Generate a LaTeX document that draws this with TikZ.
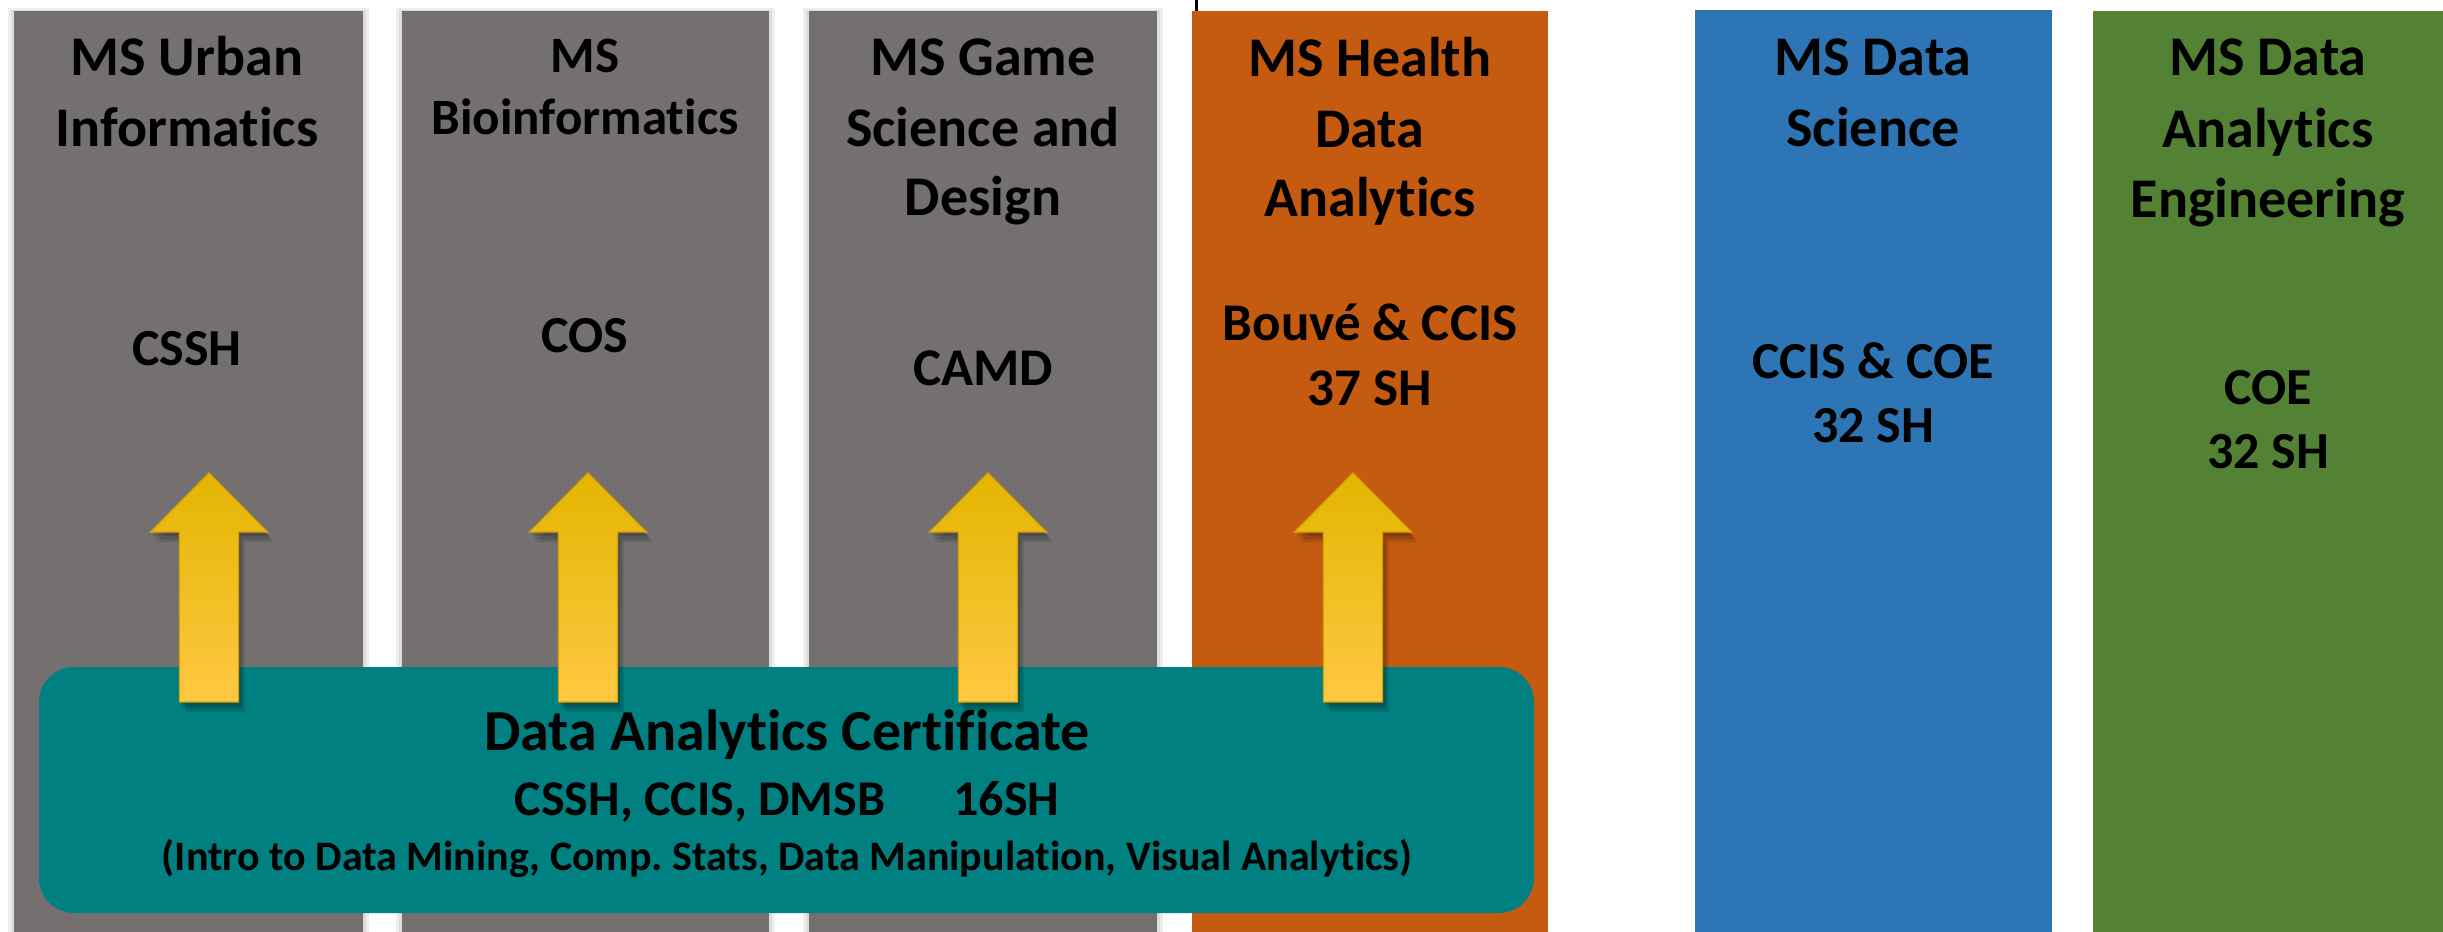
\documentclass[tikz,border=0pt]{standalone}
\usepackage{fontspec}
\setmainfont{Carlito}[Ligatures={NoCommon}]
\usetikzlibrary{fit}
\frenchspacing
\definecolor{colgray}{HTML}{747070}
\definecolor{colorange}{HTML}{C55A11}
\definecolor{colblue}{HTML}{2E75B6}
\definecolor{colgreen}{HTML}{548235}
\definecolor{colteal}{HTML}{008080}
\definecolor{arrtop}{HTML}{E3B500}
\definecolor{arrmid}{HTML}{FFC000}
\definecolor{arrbot}{HTML}{FFC843}
\definecolor{arredge}{HTML}{D9A300}
\newcommand{\mltext}[3]{{\fontsize{#1}{#2}\selectfont\bfseries\begin{tabular}[t]{@{}c@{}}#3\end{tabular}}}
\tikzset{
  colbox/.style={inner sep=0pt, draw=none},
  txt/.style={anchor=base, inner sep=0pt, text=black},
  colshadow/.style={fill=black, opacity=0.07},
  uparr/.pic={
    \foreach \dx/\dy in {2/4,4/7,6/10}{
      \fill[black,opacity=0.12] (\dx,473+\dy) -- (58.5+\dx,532+\dy) -- (29.5+\dx,532+\dy) -- (29.5+\dx,702+\dy) -- (-29.5+\dx,702+\dy) -- (-29.5+\dx,532+\dy) -- (-58.5+\dx,532+\dy) -- cycle;
    }
    \shade[top color=arrtop, middle color=arrmid, bottom color=arrbot, draw=arredge, line width=0.3pt]
      (0,473) -- (58.5,532) -- (29.5,532) -- (29.5,702) -- (-29.5,702) -- (-29.5,532) -- (-58.5,532) -- cycle;
  }
}
\begin{document}
\begin{tikzpicture}[x=0.25pt, y=-0.25pt]
\useasboundingbox (0,0) rectangle (2443,932);
\fill[white] (0,0) rectangle (2443,932);

% soft shadows of gray columns
\foreach \a/\b in {14/363, 402/769, 809/1157}{
  \fill[colshadow] (\a-6,8) rectangle (\b+6,932);
  \fill[colshadow] (\a-3,10) rectangle (\b+3,932);
}

% columns
\node[colbox, fill=colgray, fit={(14,11) (363,932)}] (c1) {};
\node[colbox, fill=colgray, fit={(402,11) (769,932)}] (c2) {};
\node[colbox, fill=colgray, fit={(809,11) (1157,932)}] (c3) {};
\node[colbox, fill=colorange, fit={(1192,11) (1548,932)}] (c4) {};
\node[colbox, fill=colblue, fit={(1695,10) (2052,932)}] (c5) {};
\node[colbox, fill=colgreen, fit={(2093,11) (2443,932)}] (c6) {};

% small tick above the orange column
\coordinate (tickA) at (1196,0);
\coordinate (tickB) at (1196,11);
\draw[line width=0.75pt] (tickA) -- (tickB);

% certificate box
\node[colbox, fill=colteal, rounded corners=8.75pt, fit={(39,667) (1534,913)}] (cert) {};

% arrows from certificate up to the programs
\pic at (209,0) {uparr};
\pic at (588,0) {uparr};
\pic at (988,0) {uparr};
\pic at (1353,0) {uparr};

% column texts
\node[txt] (t1) at (187,76) {\mltext{14pt}{17.5pt}{MS Urban\\Informatics}};
\node[txt] (s1) at (187,365) {\mltext{13pt}{16.25pt}{CSSH}};

\node[txt] (t2) at (585,72) {\mltext{12.75pt}{15.75pt}{MS\\Bioinformatics}};
\node[txt] (s2) at (585,352) {\mltext{13pt}{16.25pt}{COS}};

\node[txt] (t3) at (983,76) {\mltext{14pt}{17.5pt}{MS Game\\Science and\\Design}};
\node[txt] (s3) at (983,385) {\mltext{13.25pt}{16.25pt}{CAMD}};

\node[txt] (t4) at (1370,77) {\mltext{14pt}{17.5pt}{MS Health\\Data\\Analytics}};
\node[txt] (s4) at (1370,340) {\mltext{13.25pt}{16.25pt}{Bouvé \& CCIS\\37 SH}};

\node[txt] (t5) at (1873,76) {\mltext{14pt}{17.5pt}{MS Data\\Science}};
\node[txt] (s5) at (1873,378) {\mltext{13pt}{16pt}{CCIS \& COE\\32 SH}};

\node[txt] (t6) at (2268,76) {\mltext{14pt}{17.75pt}{MS Data\\Analytics\\Engineering}};
\node[txt] (s6) at (2268,404) {\mltext{13pt}{16pt}{COE\\32 SH}};

% certificate texts
\node[txt] (ct1) at (787,750) {\mltext{14.5pt}{17pt}{Data Analytics Certificate}};
\node[txt] (ct2) at (787,815) {\mltext{12.5pt}{15pt}{CSSH, CCIS, DMSB\hspace*{17pt}16SH}};
\node[txt] (ct3) at (787,870) {\mltext{10.5pt}{13pt}{(Intro to Data Mining, Comp. Stats, Data Manipulation, Visual Analytics)}};
\end{tikzpicture}
\end{document}
